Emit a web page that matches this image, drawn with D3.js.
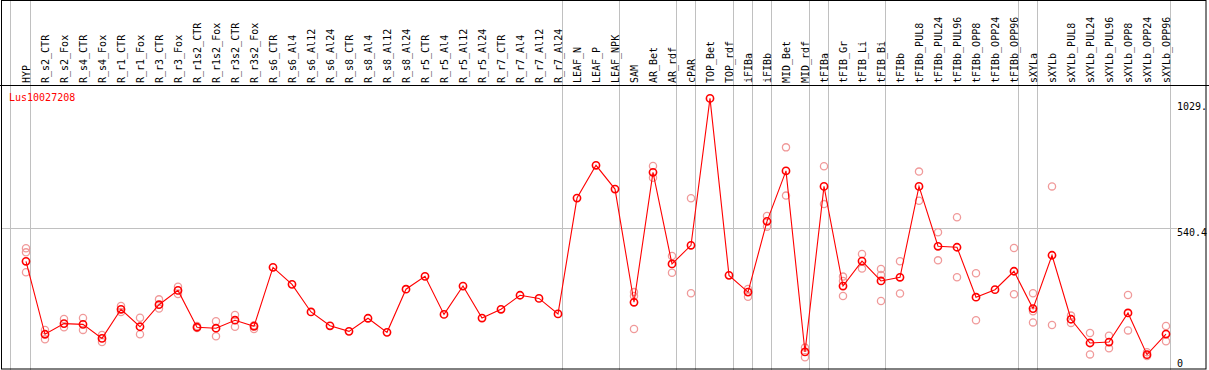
<!DOCTYPE html>
<html>
<head>
<meta charset="utf-8">
<script src="https://cdn.jsdelivr.net/npm/d3@7"></script>
<style>
  html, body { margin: 0; padding: 0; background: #fff; }
  svg { display: block; }
  text { font-family: "DejaVu Sans Mono", "Liberation Mono", monospace; font-size: 10px; }
</style>
</head>
<body>
<svg id="chart"></svg>
<script>
const GENE = 'Lus10027208';

const CATEGORIES = [
  'HYP', 'R_s2_CTR', 'R_s2_Fox', 'R_s4_CTR', 'R_s4_Fox', 'R_r1_CTR', 'R_r1_Fox', 'R_r3_CTR', 'R_r3_Fox',
  'R_r1s2_CTR', 'R_r1s2_Fox', 'R_r3s2_CTR', 'R_r3s2_Fox', 'R_s6_CTR', 'R_s6_Al4', 'R_s6_Al12', 'R_s6_Al24',
  'R_s8_CTR', 'R_s8_Al4', 'R_s8_Al12', 'R_s8_Al24', 'R_r5_CTR', 'R_r5_Al4', 'R_r5_Al12', 'R_r5_Al24',
  'R_r7_CTR', 'R_r7_Al4', 'R_r7_Al12', 'R_r7_Al24', 'LEAF_N', 'LEAF_P', 'LEAF_NPK', 'SAM', 'AR_Bet', 'AR_rdf',
  'cPAR', 'TOP_Bet', 'TOP_rdf', 'iFIBa', 'iFIBb', 'MID_Bet', 'MID_rdf', 'tFIBa', 'tFIB_Gr', 'tFIB_Li', 'tFIB_Bi',
  'tFIBb', 'tFIBb_PUL8', 'tFIBb_PUL24', 'tFIBb_PUL96', 'tFIBb_OPP8', 'tFIBb_OPP24', 'tFIBb_OPP96', 'sXYLa',
  'sXYLb', 'sXYLb_PUL8', 'sXYLb_PUL24', 'sXYLb_PUL96', 'sXYLb_OPP8', 'sXYLb_OPP24', 'sXYLb_OPP96'
];

// last sample of each tissue group (gray separator drawn after it)
const GROUP_ENDS = ['HYP', 'R_r7_Al24', 'LEAF_NPK', 'AR_rdf', 'cPAR', 'TOP_rdf', 'iFIBa', 'iFIBb',
  'MID_rdf', 'tFIBa', 'tFIB_Bi', 'tFIBb_OPP96', 'sXYLa', 'sXYLb_OPP96'];

// mean expression per sample
const MEANS = [
  403, 102, 146, 143, 85, 205, 133, 224, 283,
  131, 127, 160, 135, 378, 308, 194, 137,
  114, 168, 110, 288, 341, 184, 301, 169,
  205, 263, 250, 186, 664, 799, 701, 234, 770, 392,
  469, 1075, 345, 276, 568, 776, 29, 712, 301, 404, 322,
  337, 712, 465, 461, 255, 286, 362, 208,
  428, 164, 66, 70, 190, 18, 103
];

// individual replicates (empty where none are drawn apart from the mean)
const REPLICATES = [
  [457, 440, 358], [120, 81], [165, 131], [169, 120], [99, 70], [219, 194], [170, 102], [246, 208], [298, 268],
  [136, 128], [156, 94], [182, 133], [139, 124], [], [], [], [],
  [], [], [], [], [], [], [], [],
  [], [], [], [], [], [], [], [276, 260, 124], [796, 748], [425, 356],
  [663, 271], [], [], [289, 257], [590, 546], [873, 674], [47, 7], [795, 639], [340, 322, 260], [433, 373], [371, 347, 239],
  [403, 270], [773, 653], [523, 407], [585, 337], [354, 160], [], [458, 267], [271, 197, 151],
  [712, 140], [179, 149], [107, 19], [96, 44], [264, 118], [28, 12], [136, 73]
];

const Y_TICKS = [0, 540.4, 1029.7];
const Y_TICK_LABELS = ['0', '540.4', '1029.'];

const WIDTH = 1209;
const HEIGHT = 370;
const HEADER_Y = 85;
const PLOT_RIGHT = 1170;

const svg = d3.select('#chart').attr('width', WIDTH).attr('height', HEIGHT);

const x = d3.scaleBand().domain(CATEGORIES).range([11, PLOT_RIGHT]);
const px = d => x(d) + 15;
const y = d3.scaleLinear().domain([0, 540.4]).range([359, 228]);

// gray separators
const seps = [10].concat(GROUP_ENDS.map(c => x(c) + x.bandwidth()));
svg.append('g')
  .selectAll('line')
  .data(seps)
  .enter()
  .append('line')
  .attr('x1', d => Math.round(d) + 0.5)
  .attr('x2', d => Math.round(d) + 0.5)
  .attr('y1', 0)
  .attr('y2', HEIGHT)
  .attr('stroke', '#c0c0c0')
  .attr('stroke-width', 1);

// mid grid line
svg.append('line')
  .attr('x1', 1).attr('x2', 1177)
  .attr('y1', Math.round(y(540.4)) + 0.5).attr('y2', Math.round(y(540.4)) + 0.5)
  .attr('stroke', '#c0c0c0')
  .attr('stroke-width', 1);

// column labels
svg.append('g')
  .selectAll('text')
  .data(CATEGORIES)
  .enter()
  .append('text')
  .attr('transform', d => `translate(${px(d) + 4},${HEADER_Y - 2}) rotate(-90)`)
  .attr('fill', '#000')
  .text(d => d);

// header line
svg.append('line')
  .attr('x1', 0).attr('x2', WIDTH)
  .attr('y1', HEADER_Y + 0.5).attr('y2', HEADER_Y + 0.5)
  .attr('stroke', '#000');

// y labels
svg.append('g')
  .selectAll('text')
  .data(Y_TICKS)
  .enter()
  .append('text')
  .attr('x', 1177)
  .attr('y', (d, i) => i === Y_TICKS.length - 1 ? y(d) + 1 : y(d) + 7.5)
  .attr('fill', '#000')
  .text((d, i) => Y_TICK_LABELS[i]);

// replicates
const repPoints = [];
REPLICATES.forEach((reps, i) => reps.forEach(v => repPoints.push({ c: CATEGORIES[i], v: v })));

svg.append('g')
  .selectAll('circle')
  .data(repPoints)
  .enter()
  .append('circle')
  .attr('cx', d => px(d.c))
  .attr('cy', d => y(d.v))
  .attr('r', 3.6)
  .attr('fill', 'none')
  .attr('stroke', '#f09a9a')
  .attr('stroke-width', 1.3);

// mean line
const line = d3.line()
  .x((d, i) => px(CATEGORIES[i]))
  .y(d => y(d));

svg.append('path')
  .datum(MEANS)
  .attr('d', line)
  .attr('fill', 'none')
  .attr('stroke', '#ff0000')
  .attr('stroke-width', 1.1);

svg.append('g')
  .selectAll('circle')
  .data(MEANS)
  .enter()
  .append('circle')
  .attr('cx', (d, i) => px(CATEGORIES[i]))
  .attr('cy', d => y(d))
  .attr('r', 3.6)
  .attr('fill', 'none')
  .attr('stroke', '#ff0000')
  .attr('stroke-width', 1.6);

// gene name
svg.append('text')
  .attr('x', 9)
  .attr('y', 101)
  .attr('fill', '#ff0000')
  .text(GENE);

// frame
svg.append('rect')
  .attr('x', 1.5).attr('y', 0.5).attr('width', 1204.5).attr('height', 368.5)
  .attr('fill', 'none')
  .attr('stroke', '#000');
</script>
</body>
</html>
